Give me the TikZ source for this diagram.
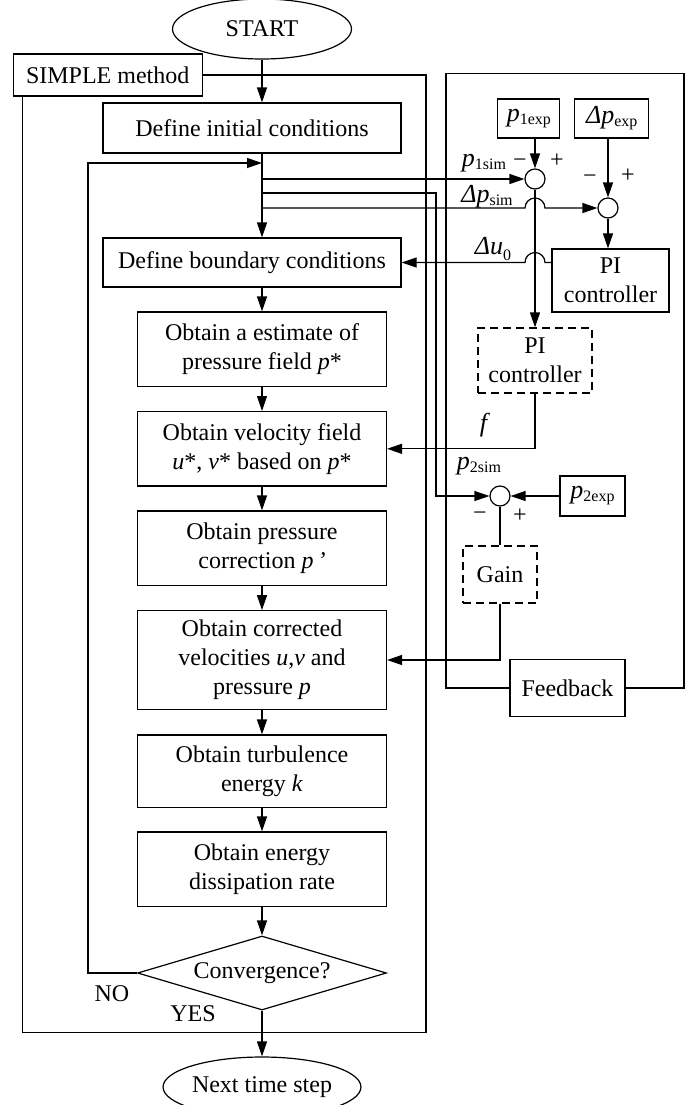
\documentclass[tikz,border=0pt]{standalone}
\usepackage{fontspec}
\setmainfont{Liberation Serif}
\usetikzlibrary{arrows.meta,positioning,calc,shapes.geometric}
\newcommand{\sigvar}[2]{{\fontsize{13pt}{13pt}\selectfont\itshape #1}\raisebox{-1.5pt}{\fontsize{8pt}{8pt}\selectfont #2}}

\begin{document}
\begin{tikzpicture}[x=0.5pt,y=-0.5pt,
    line width=0.6pt,
    >={Triangle[length=7.5pt,width=5pt]},
    font=\fontsize{12pt}{14.5pt}\selectfont,
    stepbox/.style={draw, align=center, inner sep=2pt},
    dashbox/.style={stepbox, dash pattern=on 4pt off 2.5pt},
    sumpt/.style={draw, circle, minimum size=10pt, inner sep=0pt},
    terminal/.style={draw, ellipse, minimum width=89.5pt, minimum height=30pt, inner sep=0pt},
    sign/.style={inner sep=0pt}]
    \useasboundingbox (0,0) rectangle (692,1105);
    \node[terminal] (start) at (262,29) {START};
    \node[stepbox, minimum width=94.4pt, minimum height=21pt] (simple) at (107.7,75) {SIMPLE method};
    \node[stepbox, minimum width=149pt, minimum height=25pt] (init) at (252,128) {Define initial conditions};
    \node[stepbox, minimum width=149pt, minimum height=24.5pt] (bnd) at (252,262.5) {Define boundary conditions};
    \node[stepbox, minimum width=124.5pt, minimum height=37.3pt] (est) at (262,349.3) {Obtain a estimate of\\pressure field \textit{p}*};
    \node[stepbox, minimum width=124.5pt, minimum height=37.2pt] (vel) at (262,448.8) {Obtain velocity field\\\textit{u}*, \textit{v}* based on \textit{p}*};
    \node[stepbox, minimum width=124.5pt, minimum height=37.3pt] (corr) at (262,548.3) {Obtain pressure\\correction \textit{p\,’}};
    \node[stepbox, minimum width=124.5pt, minimum height=49.3pt] (upd) at (262,660) {Obtain corrected\\velocities \textit{u},\textit{v} and\\pressure \textit{p}};
    \node[stepbox, minimum width=124.5pt, minimum height=36.3pt] (turb) at (262,771.3) {Obtain turbulence\\energy \textit{k}};
    \node[stepbox, minimum width=124.5pt, minimum height=37.3pt] (diss) at (262,869.3) {Obtain energy\\dissipation rate};
    \node[draw, diamond, aspect=3.36, minimum width=124.5pt, minimum height=37pt, inner sep=0pt] (conv) at (262,973) {Convergence?};
    \node[terminal] (next) at (262,1087) {Next time step};

    \node[stepbox, minimum width=31pt, minimum height=19.5pt] (p1e) at (528.8,118.5) {\sigvar{p}{1exp}};
    \node[stepbox, minimum width=37pt, minimum height=19.5pt] (dpe) at (611.8,118.5) {\sigvar{Δp}{exp}};
    \node[sumpt] (s1) at (535,179) {};
    \node[sumpt] (s2) at (608,208) {};
    \node[stepbox, minimum width=58.5pt, minimum height=31.5pt] (pi1) at (610.5,280.5) {PI\\controller};
    \node[dashbox, minimum width=57pt, minimum height=32.5pt] (pi2) at (535,360.5) {PI\\controller};
    \node[sumpt] (s3) at (500,496) {};
    \node[stepbox, minimum width=32.5pt, minimum height=20pt] (p2e) at (592.5,496) {\sigvar{p}{2exp}};
    \node[dashbox, minimum width=37pt, minimum height=28.5pt] (gain) at (500,574.5) {Gain};
    \node[stepbox, minimum width=57.5pt, minimum height=28.5pt] (fb) at (567.5,688) {Feedback};

    \node[sign] (l1sim) at (484,163) {\sigvar{p}{1sim}};
    \node[sign] (m1) at (520,163) {−};
    \node[sign] (a1) at (557,161) {+};
    \node[sign] (ldpsim) at (487,197) {\sigvar{Δp}{sim}};
    \node[sign] (m2) at (590,179) {−};
    \node[sign] (a2) at (628,176) {+};
    \node[sign] (ldu) at (493,249) {{\fontsize{13pt}{13pt}\selectfont\itshape Δu}\raisebox{-3pt}{\fontsize{8pt}{8pt}\selectfont 0}};
    \node[sign] (lf) at (485,425) {\fontsize{13pt}{13pt}\selectfont\textit{f}};
    \node[sign] (l2sim) at (479,466) {\sigvar{p}{2sim}};
    \node[sign] (m3) at (480,516) {−};
    \node[sign] (a3) at (520,516) {+};
    \node[sign] (lno) at (112,994) {NO};
    \node[sign] (lyes) at (193,1014) {YES};

    \coordinate (loopin) at (262,163);
    \coordinate (j1) at (262,179);
    \coordinate (j2) at (262,193);
    \coordinate (j3) at (262,208);

    \draw (simple.east) -| (426,1032.7) -| ($(simple.south west)+(10,0)$);
    \draw (fb.west) -| (446,73.3) -- (684,73.3) |- (fb.east);

    \draw[->] (start) -- (init.north -| start);
    \draw[->] (init.south -| start) -- (bnd.north -| start);
    \draw[->] (bnd.south -| start) -- (est);
    \foreach \a/\b in {est/vel,vel/corr,corr/upd,upd/turb,turb/diss,diss/conv,conv/next}
        \draw[->] (\a) -- (\b);
    \draw[->] (conv.west) -| (88,163) -- (loopin);

    \draw[->] (j1) -- (s1.west);
    \draw[->] (j2) -- (436,193) |- (s3.west);
    \draw[->] (j3) -- (525,208) arc[start angle=180,end angle=0,radius=5pt] -- (s2.west);
    \draw[->] (p1e.south -| s1) -- (s1.north);
    \draw[->] (dpe.south -| s2) -- (s2.north);
    \draw[->] (s1.south) -- (pi2.north);
    \draw[->] (s2.south) -- (pi1.north -| s2);
    \draw[->] (bnd.east -| pi1.west) -- (545,262.5) arc[start angle=0,end angle=180,radius=5pt] -- (bnd.east);
    \draw[->] (pi2.south) |- (vel.east);
    \draw[->] (p2e.west) -- (s3.east);
    \draw (s3.south) -- (gain.north);
    \draw[->] (gain.south) |- (upd.east);
\end{tikzpicture}
\end{document}
